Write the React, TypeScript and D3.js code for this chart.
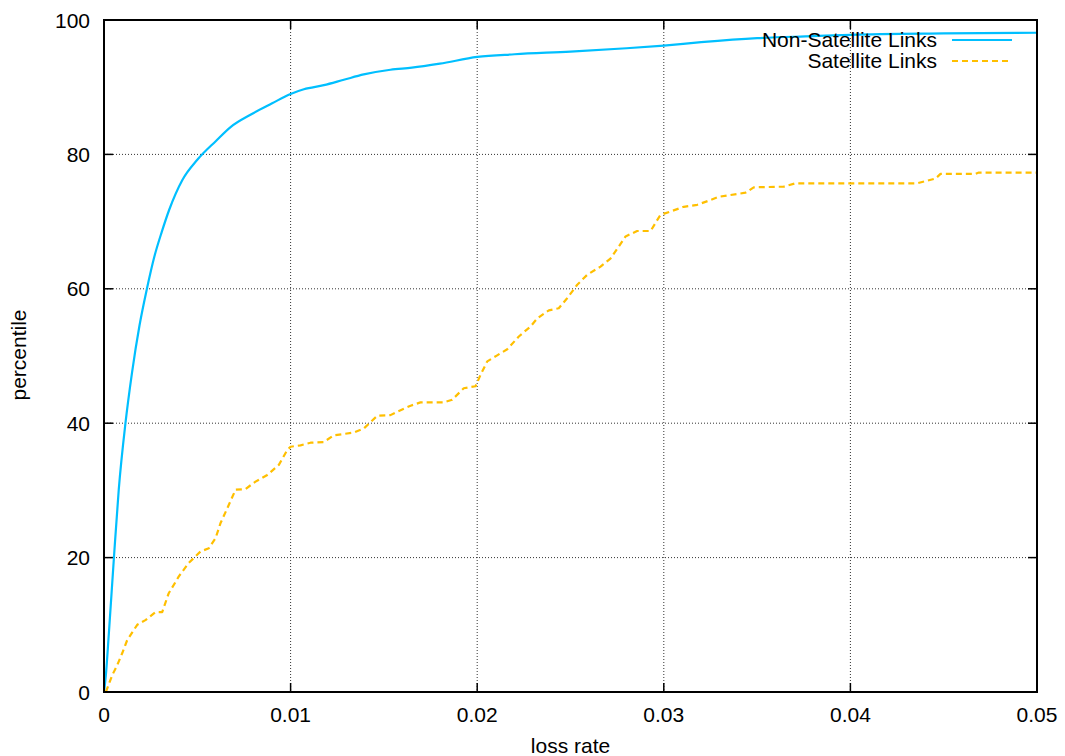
import React from "react";
import * as d3 from "d3";

const xTicks = [0, 0.01, 0.02, 0.03, 0.04, 0.05];
const xTickLabels = ["0", "0.01", "0.02", "0.03", "0.04", "0.05"];
const yTicks = [0, 20, 40, 60, 80, 100];
const yTickLabels = ["0", "20", "40", "60", "80", "100"];

const seriesNames = ["Non-Satellite Links", "Satellite Links"];

const nonSatX = [0, 0.0001, 0.00026, 0.00053, 0.00079, 0.00115, 0.0015, 0.0019, 0.0023, 0.0027, 0.0031, 0.0035, 0.0042, 0.005, 0.006, 0.0068, 0.00785, 0.00901, 0.01, 0.01071, 0.01178, 0.01285, 0.01392, 0.01535, 0.0165, 0.018, 0.02, 0.022, 0.025, 0.028, 0.03, 0.032, 0.035, 0.038, 0.04, 0.045, 0.05];
const nonSatY = [0, 2.5, 8.7, 19.9, 30.1, 40.0, 47.5, 54.5, 60.0, 64.8, 68.5, 71.8, 76.2, 79.2, 82.0, 84.1, 85.9, 87.6, 89.0, 89.7, 90.3, 91.1, 91.9, 92.6, 92.9, 93.5, 94.5, 94.9, 95.3, 95.8, 96.2, 96.7, 97.3, 97.6, 97.8, 98.0, 98.1];

const satX = [0.0001, 0.00044, 0.00071, 0.00098, 0.00124, 0.00178, 0.00222, 0.00276, 0.00312, 0.00347, 0.00401, 0.00454, 0.00517, 0.00562, 0.00598, 0.00624, 0.0066, 0.00705, 0.00758, 0.00812, 0.00875, 0.00937, 0.00982, 0.01, 0.01053, 0.01107, 0.01178, 0.01232, 0.01339, 0.01392, 0.01464, 0.01535, 0.01571, 0.01643, 0.01696, 0.01821, 0.01866, 0.01928, 0.01991, 0.02018, 0.02054, 0.02107, 0.02161, 0.02223, 0.02286, 0.02322, 0.02384, 0.02437, 0.02482, 0.02536, 0.0259, 0.02661, 0.02714, 0.02759, 0.02795, 0.02857, 0.02929, 0.02982, 0.03036, 0.03107, 0.03179, 0.0325, 0.03295, 0.03438, 0.03482, 0.03643, 0.03706, 0.04358, 0.04456, 0.04483, 0.0467, 0.04688, 0.05];
const satY = [0, 2.5, 4.0, 5.8, 7.7, 10.0, 10.7, 11.9, 11.9, 14.7, 17.2, 19.2, 20.9, 21.4, 22.9, 25.1, 27.3, 30.1, 30.2, 31.3, 32.3, 33.8, 36.0, 36.5, 36.7, 37.1, 37.2, 38.2, 38.6, 39.2, 41.1, 41.2, 41.7, 42.6, 43.1, 43.1, 43.5, 45.2, 45.5, 47.2, 49.2, 50.1, 51.0, 52.9, 54.4, 55.6, 56.8, 57.1, 58.6, 60.6, 62.1, 63.3, 64.5, 66.3, 67.8, 68.6, 68.6, 71.0, 71.5, 72.2, 72.5, 73.2, 73.7, 74.3, 75.1, 75.2, 75.7, 75.7, 76.4, 77.1, 77.1, 77.3, 77.3];

const W = 1065;
const H = 756;
const L = 104, R = 1037, T = 20, B = 692;
const FONT = "'Liberation Sans', Arial, Helvetica, sans-serif";
const FS = 21;
const BLUE = "#00bfff";
const ORANGE = "#ffbf00";

export default function App() {
  const x = d3.scaleLinear().domain([0, 0.05]).range([L, R]);
  const y = d3.scaleLinear().domain([0, 100]).range([B, T]);
  const smooth = d3
    .line<[number, number]>()
    .x((d) => x(d[0]))
    .y((d) => y(d[1]))
    .curve(d3.curveMonotoneX);
  const straight = d3
    .line<[number, number]>()
    .x((d) => x(d[0]))
    .y((d) => y(d[1]));
  const nonSat: [number, number][] = nonSatX.map((v, i) => [v, nonSatY[i]]);
  const sat: [number, number][] = satX.map((v, i) => [v, satY[i]]);
  const tickLen = 9;

  return (
    <svg
      width={W}
      height={H}
      style={{ position: "absolute", left: 0, top: 0, background: "#fff" }}
      fontFamily={FONT}
    >
      <rect x={0} y={0} width={W} height={H} fill="#fff" />
      {/* grid */}
      {xTicks.slice(1, -1).map((t) => (
        <line key={"gx" + t} x1={x(t)} x2={x(t)} y1={T} y2={B} stroke="#333" strokeWidth={1} strokeDasharray="1,2" />
      ))}
      {yTicks.slice(1, -1).map((t) => (
        <line key={"gy" + t} x1={L} x2={R} y1={y(t)} y2={y(t)} stroke="#333" strokeWidth={1} strokeDasharray="1,2" />
      ))}
      {/* ticks */}
      {xTicks.map((t) => (
        <g key={"tx" + t}>
          <line x1={x(t)} x2={x(t)} y1={B} y2={B - tickLen} stroke="#000" strokeWidth={1.5} />
          <line x1={x(t)} x2={x(t)} y1={T} y2={T + tickLen} stroke="#000" strokeWidth={1.5} />
        </g>
      ))}
      {yTicks.map((t) => (
        <g key={"ty" + t}>
          <line x1={L} x2={L + tickLen} y1={y(t)} y2={y(t)} stroke="#000" strokeWidth={1.5} />
          <line x1={R} x2={R - tickLen} y1={y(t)} y2={y(t)} stroke="#000" strokeWidth={1.5} />
        </g>
      ))}
      {/* series */}
      <path d={smooth(nonSat) || ""} fill="none" stroke={BLUE} strokeWidth={2.2} strokeLinejoin="round" />
      <path d={straight(sat) || ""} fill="none" stroke={ORANGE} strokeWidth={2.2} strokeDasharray="6,4" strokeLinejoin="round" />
      {/* border */}
      <rect x={L} y={T} width={R - L} height={B - T} fill="none" stroke="#000" strokeWidth={2} />
      {/* tick labels */}
      {xTicks.map((t, i) => (
        <text key={"lx" + t} x={x(t)} y={722} textAnchor="middle" fontSize={FS} fill="#000">
          {xTickLabels[i]}
        </text>
      ))}
      {yTicks.map((t, i) => (
        <text key={"ly" + t} x={90} y={y(t) + 7.5} textAnchor="end" fontSize={FS} fill="#000">
          {yTickLabels[i]}
        </text>
      ))}
      {/* axis titles */}
      <text x={(L + R) / 2} y={753} textAnchor="middle" fontSize={FS} fill="#000">
        loss rate
      </text>
      <text transform={`translate(26,355) rotate(-90)`} textAnchor="middle" fontSize={FS} fill="#000">
        percentile
      </text>
      {/* legend */}
      <text x={937} y={47} textAnchor="end" fontSize={FS} fill="#000">
        {seriesNames[0]}
      </text>
      <line x1={952} x2={1012} y1={40} y2={40} stroke={BLUE} strokeWidth={2.2} />
      <text x={937} y={68} textAnchor="end" fontSize={FS} fill="#000">
        {seriesNames[1]}
      </text>
      <line x1={952} x2={1012} y1={61} y2={61} stroke={ORANGE} strokeWidth={2.2} strokeDasharray="6,4" />
    </svg>
  );
}
